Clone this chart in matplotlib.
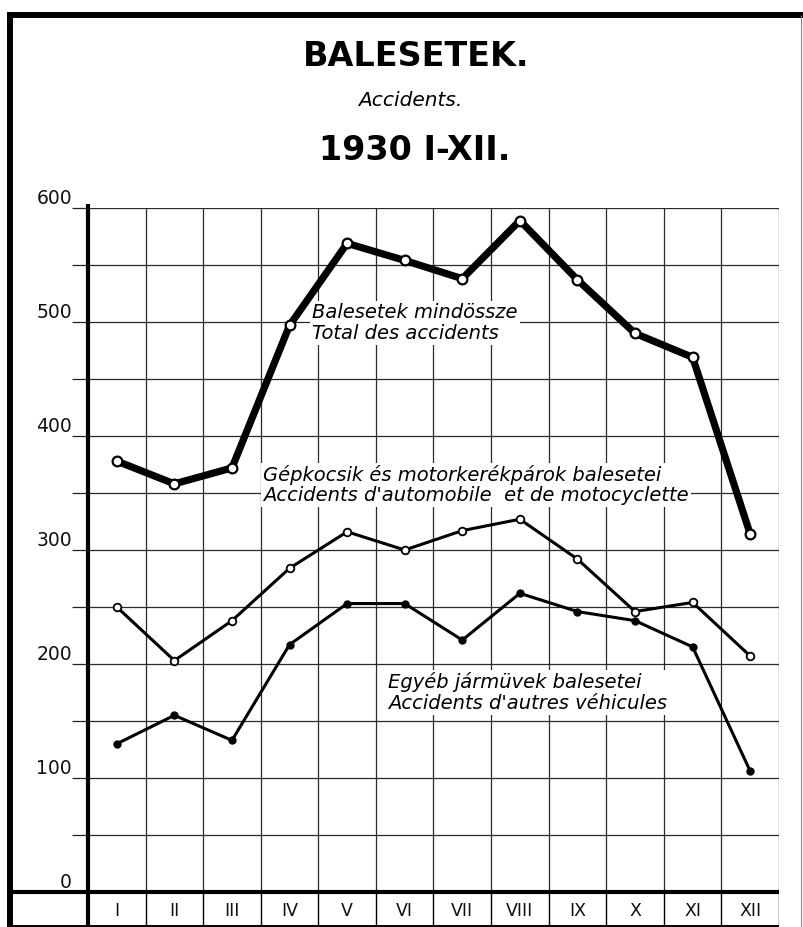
import matplotlib
matplotlib.use("Agg")
import matplotlib.pyplot as plt
from matplotlib.lines import Line2D
from matplotlib.ticker import MultipleLocator, FixedLocator

# ---- data ----
months = ["I", "II", "III", "IV", "V", "VI", "VII", "VIII", "IX", "X", "XI", "XII"]
total = [378, 358, 372, 497, 569, 554, 538, 589, 537, 490, 469, 314]
motor = [250, 203, 238, 284, 316, 300, 317, 327, 292, 246, 254, 207]
other = [130, 155, 133, 217, 253, 253, 221, 262, 246, 238, 215, 106]
yticks_major = [0, 100, 200, 300, 400, 500, 600]

W, H = 804, 927
fig = plt.figure(figsize=(W / 100, H / 100), dpi=100)
fig.patch.set_facecolor("white")

def fx(x):
    return x / W

def fy(y):
    return 1 - y / H

# main axes
L, R, T, B = 88, 779, 208, 892
ax = fig.add_axes([fx(L), fy(B), fx(R) - fx(L), fy(T) - fy(B)])
ax.set_xlim(0, 12)
ax.set_ylim(0, 600)
for s in ax.spines.values():
    s.set_visible(False)

ax.yaxis.set_major_locator(FixedLocator(yticks_major))
ax.yaxis.set_minor_locator(MultipleLocator(50))
ax.set_xticks(range(13))
ax.set_xticklabels([])
ax.tick_params(axis="x", length=0)
ax.tick_params(axis="y", which="both", direction="out", length=11.5, width=0.9,
               color="#222222", pad=0)
ax.set_yticklabels([str(v) for v in yticks_major], fontsize=13.5,
                   family="DejaVu Sans", color="#111111")
for lab in ax.get_yticklabels():
    lab.set_va("bottom")
ax.grid(True, which="both", color="#2a2a2a", lw=0.9)
ax.set_axisbelow(True)

xs = [i + 0.5 for i in range(len(months))]
ax.plot(xs, total, color="black", lw=5.2, marker="o", ms=7, mfc="white",
        mec="black", mew=1.6, zorder=5, solid_joinstyle="round")
ax.plot(xs, motor, color="black", lw=2.2, marker="o", ms=5.5, mfc="white",
        mec="black", mew=1.3, zorder=4)
ax.plot(xs, other, color="black", lw=2.2, marker="o", ms=5, mfc="black",
        mec="black", zorder=4)

box = dict(facecolor="white", edgecolor="none", pad=1.5)
lab_kw = dict(ha="left", va="center", fontsize=14, style="italic",
              family="DejaVu Sans", linespacing=1.1, bbox=box, zorder=3)
ax.text(3.89, 499, "Balesetek mindössze\nTotal des accidents", **lab_kw)
ax.text(3.04, 357, "Gépkocsik és motorkerékpárok balesetei\nAccidents d'automobile  et de motocyclette",
        **lab_kw)
ax.text(5.21, 175, "Egyéb jármüvek balesetei\nAccidents d'autres véhicules", **lab_kw)

# month label row
axl = fig.add_axes([fx(L), fy(926), fx(R) - fx(L), fy(892) - fy(926)])
axl.set_xlim(0, 12)
axl.set_ylim(0, 1)
axl.axis("off")
axl.vlines(range(13), 0, 1, color="black", lw=1.0)
for i, m in enumerate(months):
    axl.text(i + 0.5, 0.45, m, ha="center", va="center", fontsize=12.5,
             family="DejaVu Sans", color="#111111")

# frame and heavy lines
def fline(x0, y0, x1, y1, lw, color="black"):
    fig.add_artist(Line2D([fx(x0), fx(x1)], [fy(y0), fy(y1)], lw=lw, color=color,
                          transform=fig.transFigure, solid_capstyle="butt"))

fline(7, 15, 804, 15, 4.3)
fline(10, 13, 10, 927, 4.3)
fline(801, 15, 801, 927, 0.8, "#888888")
fline(88, 204, 88, 927, 3.0)
fline(10, 892, 779, 892, 3.0)
fline(10, 926, 779, 926, 1.4)

# titles
fig.text(fx(416), fy(57), "BALESETEK.", ha="center", va="center", fontsize=24,
         weight="bold", family="DejaVu Sans")
fig.text(fx(410), fy(101), "Accidents.", ha="center", va="center", fontsize=14.5,
         style="italic", family="DejaVu Sans")
fig.text(fx(415), fy(150), "1930 I-XII.", ha="center", va="center", fontsize=24,
         weight="bold", family="DejaVu Sans")

fig.savefig("out.png", dpi=100, facecolor="white")
